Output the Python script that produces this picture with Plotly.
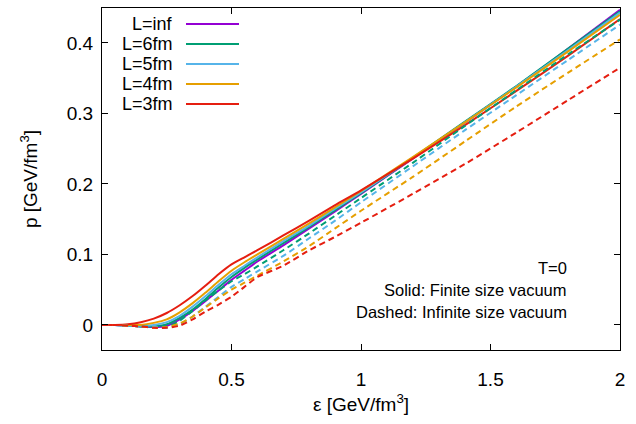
import plotly.graph_objects as go

eps = [0, 0.05, 0.1, 0.15, 0.2, 0.25, 0.3, 0.35, 0.4, 0.45, 0.5, 0.55, 0.6,
       0.7, 0.8, 0.9, 1.0, 1.2, 1.4, 1.6, 1.8, 2.0]

# Solid: finite size vacuum
p_inf = [0, 0, -0.001, -0.002, -0.003, -0.001, 0.008, 0.020, 0.034, 0.049, 0.064, 0.077, 0.090,
         0.113, 0.137, 0.161, 0.186, 0.236, 0.287, 0.338, 0.392, 0.447]
p_6 = [0, 0, -0.001, -0.002, -0.002, 0.001, 0.010, 0.022, 0.037, 0.053, 0.068, 0.081, 0.093,
       0.116, 0.139, 0.163, 0.187, 0.237, 0.288, 0.339, 0.392, 0.445]
p_5 = [0, 0, -0.001, -0.001, 0.000, 0.004, 0.013, 0.026, 0.041, 0.057, 0.072, 0.084, 0.096,
       0.119, 0.141, 0.165, 0.188, 0.237, 0.287, 0.338, 0.390, 0.443]
p_4 = [0, 0, 0.000, 0.000, 0.003, 0.008, 0.018, 0.031, 0.046, 0.062, 0.077, 0.089, 0.100,
       0.122, 0.144, 0.167, 0.190, 0.238, 0.287, 0.337, 0.388, 0.440]
p_3 = [0, 0, 0.001, 0.004, 0.009, 0.017, 0.028, 0.041, 0.056, 0.072, 0.086, 0.096, 0.106,
       0.127, 0.148, 0.170, 0.191, 0.236, 0.283, 0.332, 0.382, 0.434]

# Dashed: infinite size vacuum
d_6 = [0, 0, -0.001, -0.002, -0.003, -0.003, 0.006, 0.020, 0.035, 0.049, 0.062, 0.072, 0.083,
       0.106, 0.130, 0.155, 0.180, 0.230, 0.282, 0.333, 0.384, 0.433]
d_5 = [0, 0, -0.001, -0.002, -0.003, -0.004, 0.001, 0.012, 0.026, 0.040, 0.054, 0.065, 0.076,
       0.098, 0.123, 0.148, 0.174, 0.225, 0.276, 0.326, 0.376, 0.426]
d_4 = [0, 0, -0.001, -0.002, -0.004, -0.003, 0.002, 0.012, 0.025, 0.038, 0.050, 0.060, 0.070,
       0.090, 0.112, 0.137, 0.162, 0.210, 0.260, 0.310, 0.358, 0.405]
d_3 = [0, 0, -0.001, -0.002, -0.004, -0.004, -0.001, 0.008, 0.019, 0.029, 0.040, 0.054, 0.068,
       0.084, 0.106, 0.125, 0.145, 0.186, 0.228, 0.273, 0.319, 0.365]

labels = ["L=inf", "L=6fm", "L=5fm", "L=4fm", "L=3fm"]
colors = ["#9400d3", "#009e73", "#56b4e9", "#e69f00", "#e51e10"]
solid = [p_inf, p_6, p_5, p_4, p_3]
dashed = [None, d_6, d_5, d_4, d_3]

x_ticks = [0, 0.5, 1, 1.5, 2]
x_ticklabels = ["0", "0.5", "1", "1.5", "2"]
y_ticks = [0, 0.1, 0.2, 0.3, 0.4]
y_ticklabels = ["0", "0.1", "0.2", "0.3", "0.4"]

FONT = "Liberation Sans, Arial, Helvetica, sans-serif"

fig = go.Figure()
for lab, col, ys in zip(labels, colors, solid):
    fig.add_trace(go.Scatter(x=eps, y=ys, mode="lines", name=lab,
                             line=dict(color=col, width=2, shape="spline", smoothing=0.5),
                             showlegend=False))
for lab, col, ys in zip(labels, colors, dashed):
    if ys is None:
        continue
    fig.add_trace(go.Scatter(x=eps, y=ys, mode="lines", name=lab + " (inf. vac.)",
                             line=dict(color=col, width=2, dash="6px,4px",
                                       shape="spline", smoothing=0.5),
                             showlegend=False))

# Gnuplot-style legend: text right-aligned, then line sample
annotations = []
shapes = []
for i, (lab, col) in enumerate(zip(labels, colors)):
    ypx = 24 + 20 * i  # pixel from top of page
    yp = 1 - (ypx - 8) / 342
    annotations.append(dict(xref="paper", yref="paper", x=(175 - 102) / 518, y=yp,
                            text=lab, showarrow=False, xanchor="right", yanchor="middle",
                            font=dict(family=FONT, size=18, color="black")))
    shapes.append(dict(type="line", xref="paper", yref="paper",
                       x0=(186 - 102) / 518, x1=(239 - 102) / 518, y0=yp, y1=yp,
                       line=dict(color=col, width=2)))

for txt, ypx in [("T=0", 268), ("Solid: Finite size vacuum", 290),
                 ("Dashed: Infinite size vacuum", 312)]:
    annotations.append(dict(xref="paper", yref="paper", x=(569 - 102) / 518,
                            y=1 - (ypx - 8) / 342, text=txt, showarrow=False,
                            xanchor="right", yanchor="middle",
                            font=dict(family=FONT, size=16.5, color="black")))

fig.update_layout(
    width=636, height=424,
    margin=dict(l=102, r=16, t=8, b=74),
    paper_bgcolor="white", plot_bgcolor="white",
    font=dict(family=FONT, size=18, color="black"),
    annotations=annotations, shapes=shapes,
    showlegend=False,
)
fig.update_xaxes(range=[0, 2], tickvals=x_ticks, ticktext=x_ticklabels,
                 ticks="inside", ticklen=6, tickcolor="black", tickwidth=1,
                 ticklabelstandoff=12, tickfont=dict(family=FONT, size=19),
                 showline=True, linecolor="black", linewidth=1, mirror="ticks",
                 showgrid=False, zeroline=False,
                 title=dict(text="ε [GeV/fm<sup>3</sup>]", standoff=8,
                            font=dict(family=FONT, size=19)))
fig.update_yaxes(range=[-0.0355, 0.4496], tickvals=y_ticks, ticktext=y_ticklabels,
                 ticks="inside", ticklen=6, tickcolor="black", tickwidth=1,
                 ticklabelstandoff=4, tickfont=dict(family=FONT, size=19),
                 showline=True, linecolor="black", linewidth=1, mirror="ticks",
                 showgrid=False, zeroline=False,
                 title=dict(text="p [GeV/fm<sup>3</sup>]", standoff=24,
                            font=dict(family=FONT, size=19)))

fig.write_html("out.html")
